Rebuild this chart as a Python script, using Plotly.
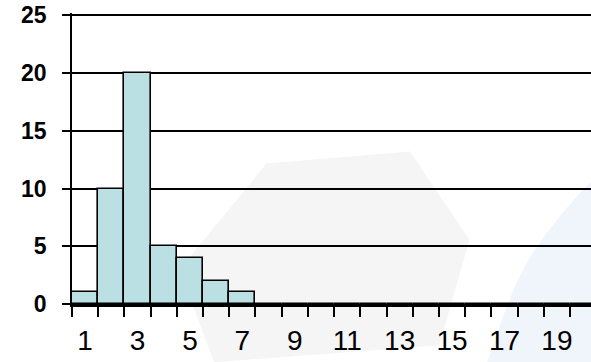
import plotly.graph_objects as go

# Histogram counts per bin (bins 1..20)
bins = list(range(1, 21))
counts = [1, 10, 20, 5, 4, 2, 1, 0, 0, 0, 0, 0, 0, 0, 0, 0, 0, 0, 0, 0]

# Axis labels
x_label_vals = [1, 3, 5, 7, 9, 11, 13, 15, 17, 19]
y_tick_vals = [0, 5, 10, 15, 20, 25]
bin_edges = [b - 0.5 for b in bins] + [bins[-1] + 0.5]

fig = go.Figure()

fig.add_trace(go.Bar(
    x=bins,
    y=counts,
    width=1.0,
    marker=dict(color="#bae0e3", line=dict(color="#000000", width=1.6)),
    showlegend=False,
))

# faint background decoration shapes
fig.add_shape(type="path", xref="paper", yref="paper", layer="below",
              path="M 0.375 0.483 L 0.651 0.524 L 0.766 0.222 L 0.708 -0.142 "
                   "L 0.274 -0.2 L 0.207 0.118 Z",
              fillcolor="#f5f5f5", line=dict(width=0))
fig.add_shape(type="path", xref="paper", yref="paper", layer="below",
              path="M 1.0 0.42 C 0.95 0.33, 0.90 0.22, 0.87 0.12 "
                   "C 0.84 0.02, 0.82 -0.1, 0.80 -0.2 L 1.0 -0.2 Z",
              fillcolor="#f0f5fc", line=dict(width=0))

fig.update_layout(
    width=591, height=362,
    margin=dict(l=72, r=0, t=13, b=58),
    paper_bgcolor="white",
    plot_bgcolor="rgba(0,0,0,0)",
    bargap=0,
    font=dict(family="Arial", color="#000000"),
    xaxis=dict(
        range=[0.5, 20.3],
        automargin=False,
        tickmode="array",
        tickvals=x_label_vals,
        ticktext=[str(v) for v in x_label_vals],
        ticks="",
        tickfont=dict(family="Arial", size=28, color="#000000"),
        ticklabelstandoff=10,
        showgrid=False,
        zeroline=False,
        showline=True, linecolor="#000000", linewidth=2.5,
        minor=dict(tickvals=bin_edges, ticks="outside", ticklen=10,
                   tickcolor="#000000", tickwidth=1.5, showgrid=False),
    ),
    yaxis=dict(
        range=[0, 25.2],
        automargin=False,
        tickmode="array",
        tickvals=y_tick_vals,
        ticktext=["<b>%d</b>" % v for v in y_tick_vals],
        ticks="outside", ticklen=8, tickcolor="#000000", tickwidth=1.5,
        tickfont=dict(family="Arial", size=23, color="#000000"),
        ticklabelstandoff=11,
        showgrid=True, gridcolor="#000000", gridwidth=1.5,
        zeroline=False,
        showline=True, linecolor="#000000", linewidth=1.5,
    ),
)

fig.write_html("out.html")
